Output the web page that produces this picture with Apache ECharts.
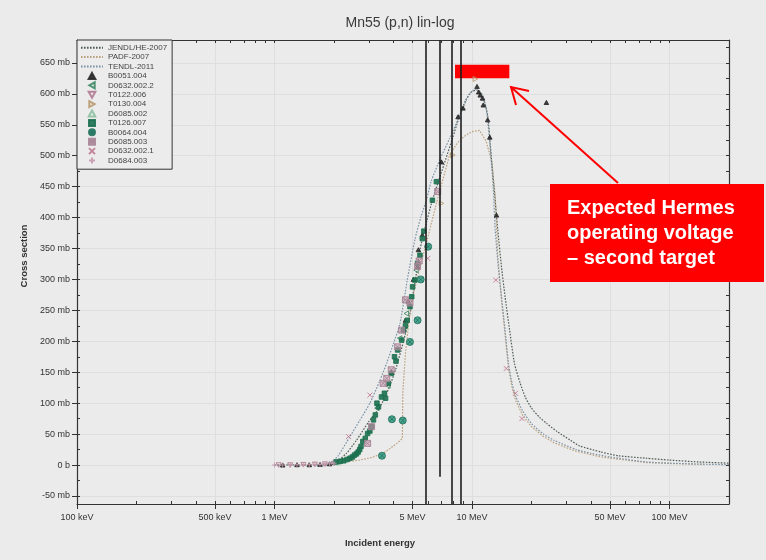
<!DOCTYPE html>
<html>
<head>
<meta charset="utf-8">
<script src="https://cdn.jsdelivr.net/npm/echarts@6/dist/echarts.min.js"></script>
<style>
html,body{margin:0;padding:0;background:#ebebeb;}
#chart{width:766px;height:560px;}
</style>
</head>
<body>
<div id="chart"></div>
<script>
// ---------- axis ticks / labels ----------
const xLabelValues = [0.1, 0.5, 1, 5, 10, 50, 100];
const xTickValues = [0.1, 0.2, 0.3, 0.4, 0.5, 0.6, 0.7, 0.8, 0.9, 1, 2, 3, 4, 5, 6, 7, 8, 9, 10, 20, 30, 40, 50, 60, 70, 80, 90, 100];
const yLabelValues = [-50, 0, 50, 100, 150, 200, 250, 300, 350, 400, 450, 500, 550, 600, 650];
const yTickValues = [-50, -25, 0, 25, 50, 75, 100, 125, 150, 175, 200, 225, 250, 275, 300, 325, 350, 375, 400, 425, 450, 475, 500, 525, 550, 575, 600, 625, 650, 675];
const xMin = 0.1, xMax = 200, yMin = -63, yMax = 687;

// ---------- evaluated curves (E in MeV, cross section in mb) ----------
const jendlE  = [1.0, 1.5, 1.9, 2.0, 2.3, 2.6, 3.0, 3.42, 3.8, 4.1, 4.5, 4.85, 5.2, 5.45, 5.8, 6.3, 7.2, 8.0, 8.6, 9.3, 10.0, 10.6, 11.3, 12.0, 12.5, 13.0, 13.5, 14.1, 14.7, 15.5, 16.4, 17.5, 18.6, 20, 22, 23.9, 27, 31.5, 35, 45, 55, 76, 100, 140, 200];
const jendlXS = [0, 0, 0.5, 2, 18, 40, 70, 94, 125, 154, 200, 245, 305, 348, 385, 428, 485, 530, 562, 590, 604, 606, 598, 565, 500, 440, 380, 320, 272, 218, 164, 133, 110, 92, 77, 67, 54, 40, 31, 21, 15, 11, 8, 5, 3];
const padfE   = [1.0, 1.5, 2.05, 2.7, 3.1, 3.55, 3.9, 4.2, 4.44, 4.46, 4.6, 4.8, 5.1, 5.5, 5.9, 6.7, 7.7, 8.4, 9.1, 10.0, 10.9, 11.8, 12.6, 13.1, 13.5, 14.1, 14.7, 15.3, 16.0, 16.7, 18.0, 20, 23, 26, 33, 45, 76, 100, 150];
const padfXS  = [0, 0, 3, 8, 12, 19, 28, 36, 43, 115, 180, 235, 282, 325, 361, 431, 501, 520, 531, 539, 541, 523, 490, 436, 339, 266, 210, 157, 123, 103, 81, 62, 46, 36, 23, 13, 4, 2.5, 1];
const tendlE  = [1.0, 1.5, 1.92, 2.1, 2.41, 2.7, 3.04, 3.4, 3.7, 4.0, 4.32, 4.7, 5.14, 5.5, 5.9, 6.2, 6.9, 7.7, 8.7, 9.7, 10.4, 11.0, 11.8, 12.3, 12.8, 13.1, 13.6, 14.1, 14.7, 15.3, 16.0, 16.7, 18.0, 20.0, 23.0, 26.0, 33.7, 40, 50, 76, 100, 140, 200];
const tendlXS = [0, 0, 3, 15, 46, 72, 100, 135, 165, 196, 229, 299, 365, 400, 430, 458, 495, 528, 566, 600, 607, 603, 575, 520, 450, 380, 318, 272, 218, 164, 130, 110, 88, 67, 50, 40, 25, 19, 13, 5, 3, 1.5, 0.5];

// ---------- experimental data ----------
const b0051E  = [1.1, 1.3, 1.5, 1.7, 1.9, 3.9, 4.6, 4.75, 5.05, 5.3, 5.35, 5.6, 7.0, 8.5, 9.0, 10.6, 10.8, 11.0, 11.3, 11.4, 12.0, 12.3, 13.3, 23.8];
const b0051XS = [0, 0.5, 0.5, 1, 2, 150, 234, 265, 300, 321, 348, 372, 490, 563, 577, 612, 603, 598, 593, 582, 558, 530, 404, 586];
const d0632_2E  = [3.3, 3.75, 4.3, 4.65, 5.2];
const d0632_2XS = [92, 128, 205, 245, 315];
const t0122E  = [1.05, 1.2, 1.4, 1.6, 1.8, 2.0];
const t0122XS = [0, 0, 0.5, 1, 1.5, 2.5];
const t0130E  = [7.0, 8.0, 10.4];
const t0130XS = [423, 501, 624];
const d6085_2E  = [2.1, 2.25, 2.45];
const d6085_2XS = [4, 7, 12];
const t0126E  = [2.05, 2.15, 2.24, 2.33, 2.41, 2.48, 2.54, 2.6, 2.65, 2.7, 2.74, 2.8, 2.88, 2.96, 3.04, 3.1, 3.17, 3.24, 3.3, 3.36, 3.48, 3.6, 3.65, 3.77, 3.9, 4.05, 4.12, 4.2, 4.4, 4.5, 4.6, 4.7, 4.85, 4.95, 5.0, 5.14, 5.3, 5.45, 5.6, 5.7, 6.3, 6.6];
const t0126XS = [5, 6, 7, 9, 11, 13, 16, 18, 21, 25, 30, 38, 43, 51, 55, 62, 73, 81, 100, 94, 110, 116, 108, 132, 148, 175, 168, 186, 202, 218, 225, 234, 256, 272, 288, 299, 326, 339, 366, 378, 428, 458];
const b0064E  = [3.5, 3.93, 4.46, 4.85, 5.3, 5.5, 6.0];
const b0064XS = [15, 74, 72, 199, 234, 300, 353];
const d6085_3E  = [2.96, 3.1, 3.55, 3.7, 3.9, 4.2, 4.4, 4.6, 4.85, 5.3, 5.4, 6.7];
const d6085_3XS = [35, 62, 132, 140, 154, 191, 218, 267, 262, 321, 330, 442];
const d0632_1E  = [2.37, 3.04, 5.97, 13.2, 14.9, 16.6, 17.9];
const d0632_1XS = [46, 113, 334, 299, 156, 116, 75];
const d0684E  = [1.0, 1.1, 1.2, 1.3, 1.4, 1.5, 1.6, 1.7, 1.8, 1.9, 2.0];
const d0684XS = [0, 0, 0, 0.5, 0.5, 0.5, 1, 1, 1.5, 2, 3];

// ---------- annotations ----------
const vLinesE = [5.83, 6.89, 7.85, 8.77];
const vLinesBottom = [yMin, -19, yMin, yMin];
const hermesE = [8.2, 15.45];
const hermesXS = [625, 647];

const zip = (a, b) => a.map((v, i) => [v, b[i]]);
const FONT = '"Liberation Sans", Arial, sans-serif';

const chart = echarts.init(document.getElementById('chart'), null, {renderer: 'canvas'});

const fmtE = v => v < 1 ? Math.round(v * 1000) + ' keV' : Math.round(v) + ' MeV';
const fmtY = v => v === 0 ? '0 b' : v + ' mb';

const lineSeries = (name, e, xs, color, extra) => Object.assign({
  name, type: 'line', data: zip(e, xs), showSymbol: false, symbol: 'none',
  lineStyle: {color, width: 1.2, type: [1.6, 1.4]}, itemStyle: {color},
  z: 3, silent: true
}, extra || {});

const scatterSeries = (name, e, xs, symbol, size, fill, stroke) => ({
  name, type: 'scatter', data: zip(e, xs), symbol, symbolSize: size,
  symbolKeepAspect: true,
  itemStyle: {color: fill, borderColor: stroke, borderWidth: 1, opacity: 0.9},
  z: 4, silent: true
});

const P_UP = 'path://M5,0L10,9L0,9Z';
const P_DOWN = 'path://M0,0L10,0L5,9Z';
const P_LEFT = 'path://M0,5L9,0L9,10Z';
const P_RIGHT = 'path://M9,5L0,0L0,10Z';
const P_SQ = 'path://M0,0L10,0L10,10L0,10Z';
const P_X = 'path://M0,0L10,10M10,0L0,10';
const P_PLUS = 'path://M5,0L5,10M0,5L10,5';
const P_BOXX = 'path://M0,0L10,0L10,10L0,10ZM0,0L10,10M10,0L0,10';
const P_OX = 'path://M0,5A5,5,0,1,1,10,5A5,5,0,1,1,0,5ZM1.5,1.5L8.5,8.5M8.5,1.5L1.5,8.5';

const curveNames = ['JENDL/HE-2007', 'PADF-2007', 'TENDL-2011'];
const pointNames = ['B0051.004', 'D0632.002.2', 'T0122.006', 'T0130.004', 'D6085.002', 'T0126.007', 'B0064.004', 'D6085.003', 'D0632.002.1', 'D0684.003'];

const option = {
  backgroundColor: '#ebebeb',
  animation: false,
  textStyle: {fontFamily: FONT},
  title: {
    text: 'Mn55 (p,n) lin-log', left: 395, top: 11, textAlign: 'center',
    textStyle: {fontSize: 14, fontWeight: 'normal', color: '#3a3a3a', fontFamily: FONT}
  },
  grid: {left: 77, right: 37, top: 40, bottom: 56, containLabel: false},
  legend: {
    data: curveNames.map(n => ({name: n, itemStyle: {opacity: 0}})).concat(pointNames.map(n => ({name: n}))),
    orient: 'vertical', left: 77, top: 40,
    padding: [3, 5, 4, 3], itemGap: 0, itemWidth: 22, itemHeight: 6,
    symbolKeepAspect: true,
    borderColor: '#333', borderWidth: 1, backgroundColor: '#ececec',
    textStyle: {fontSize: 8, color: '#444', lineHeight: 9.4, fontFamily: FONT},
    selectedMode: false, z: 10
  },
  xAxis: [
    {
      type: 'log', logBase: 10, min: xMin, max: xMax, position: 'bottom',
      axisLine: {show: true, onZero: false, lineStyle: {color: '#333', width: 1.2}},
      axisTick: {show: true, customValues: xLabelValues, length: 5, lineStyle: {color: '#333'}},
      axisLabel: {customValues: xLabelValues, formatter: fmtE, fontSize: 9, color: '#333', margin: 9, fontFamily: FONT},
      splitLine: {show: true, lineStyle: {color: '#dedede', width: 1}},
      minorTick: {show: false}, minorSplitLine: {show: false},
      name: 'Incident energy', nameLocation: 'middle', nameGap: 34,
      nameTextStyle: {fontSize: 9.5, fontWeight: 'bold', color: '#333', padding: [0, 46, 0, 0], fontFamily: FONT}
    },
    {
      type: 'log', logBase: 10, min: xMin, max: xMax, position: 'bottom',
      axisLine: {show: false, onZero: false},
      axisTick: {show: true, customValues: xTickValues, inside: true, length: 3, lineStyle: {color: '#333'}},
      axisLabel: {show: false}, splitLine: {show: false}
    },
    {
      type: 'log', logBase: 10, min: xMin, max: xMax, position: 'top',
      axisLine: {show: true, onZero: false, lineStyle: {color: '#333', width: 1.2}},
      axisTick: {show: true, customValues: xTickValues, inside: true, length: 3, lineStyle: {color: '#333'}},
      axisLabel: {show: false}, splitLine: {show: false}
    }
  ],
  yAxis: [
    {
      type: 'value', min: yMin, max: yMax, position: 'left',
      axisLine: {show: true, onZero: false, lineStyle: {color: '#333', width: 1.2}},
      axisTick: {show: true, customValues: yLabelValues, length: 5, lineStyle: {color: '#333'}},
      axisLabel: {customValues: yLabelValues, formatter: fmtY, fontSize: 9, color: '#333', margin: 7, fontFamily: FONT},
      splitLine: {show: true, lineStyle: {color: '#dedede', width: 1}},
      name: 'Cross section', nameLocation: 'middle', nameGap: 44,
      nameTextStyle: {fontSize: 9.5, fontWeight: 'bold', color: '#333', padding: [0, 0, 0, 32], fontFamily: FONT}
    },
    {
      type: 'value', min: yMin, max: yMax, position: 'left',
      axisLine: {show: false, onZero: false},
      axisTick: {show: true, customValues: yTickValues, inside: true, length: 3, lineStyle: {color: '#333'}},
      axisLabel: {show: false}, splitLine: {show: false}
    },
    {
      type: 'value', min: yMin, max: yMax, position: 'right',
      axisLine: {show: true, onZero: false, lineStyle: {color: '#333', width: 1.2}},
      axisTick: {show: true, customValues: yTickValues, inside: true, length: 3, lineStyle: {color: '#333'}},
      axisLabel: {show: false}, splitLine: {show: false}
    }
  ],
  series: [
    lineSeries('JENDL/HE-2007', jendlE, jendlXS, '#4f5d55', {
      smooth: 0.2,
      markLine: {
        silent: true, symbol: 'none', label: {show: false}, animation: false,
        lineStyle: {color: '#1e1e1e', width: 1.6, type: 'solid'},
        data: vLinesE.map((e, i) => [{coord: [e, vLinesBottom[i]]}, {coord: [e, yMax]}])
      },
      markArea: {
        silent: true, itemStyle: {color: '#ff0000', opacity: 1},
        data: [[{coord: [hermesE[0], hermesXS[1]]}, {coord: [hermesE[1], hermesXS[0]]}]]
      }
    }),
    lineSeries('PADF-2007', padfE, padfXS, '#bba27f'),
    lineSeries('TENDL-2011', tendlE, tendlXS, '#7d94a6', {smooth: 0.2}),
    scatterSeries('B0051.004', b0051E, b0051XS, P_UP, 4.5, '#2a2a2a', '#2a2a2a'),
    scatterSeries('D0632.002.2', d0632_2E, d0632_2XS, P_LEFT, 5, 'rgba(0,0,0,0)', '#3f8a66'),
    scatterSeries('T0122.006', t0122E, t0122XS, P_DOWN, 5, 'rgba(0,0,0,0)', '#b07a92'),
    scatterSeries('T0130.004', t0130E, t0130XS, P_RIGHT, 5, 'rgba(0,0,0,0)', '#b89a70'),
    scatterSeries('D6085.002', d6085_2E, d6085_2XS, P_UP, 5, 'rgba(0,0,0,0)', '#8cc0a0'),
    scatterSeries('T0126.007', t0126E, t0126XS, P_SQ, 4.5, '#1d7150', '#1d7150'),
    scatterSeries('B0064.004', b0064E, b0064XS, P_OX, 7, '#3aa088', '#26735e'),
    scatterSeries('D6085.003', d6085_3E, d6085_3XS, P_BOXX, 6, 'rgba(190,150,170,0.6)', '#a88496'),
    scatterSeries('D0632.002.1', d0632_1E, d0632_1XS, P_X, 5, 'rgba(0,0,0,0)', '#c07a92'),
    scatterSeries('D0684.003', d0684E, d0684XS, P_PLUS, 5, 'rgba(0,0,0,0)', '#c49aac')
  ],
  graphic: [
    {type: 'line', shape: {x1: 618, y1: 183, x2: 511, y2: 87}, style: {stroke: '#ff0000', lineWidth: 2}, z: 100},
    {type: 'polyline', shape: {points: [[529, 91], [511, 87], [516, 105]]}, style: {stroke: '#ff0000', lineWidth: 2, fill: null}, z: 100},
    {type: 'rect', shape: {x: 550, y: 184, width: 214, height: 98}, style: {fill: '#ff0000'}, z: 100},
    {type: 'text', x: 567, y: 195.5, z: 101,
     style: {text: 'Expected Hermes\noperating voltage\n– second target', fill: '#ffffff',
             font: 'bold 20px "Liberation Sans", Arial, sans-serif', lineHeight: 25, textVerticalAlign: 'top'}}
  ]
};
chart.setOption(option);
</script>
</body>
</html>
